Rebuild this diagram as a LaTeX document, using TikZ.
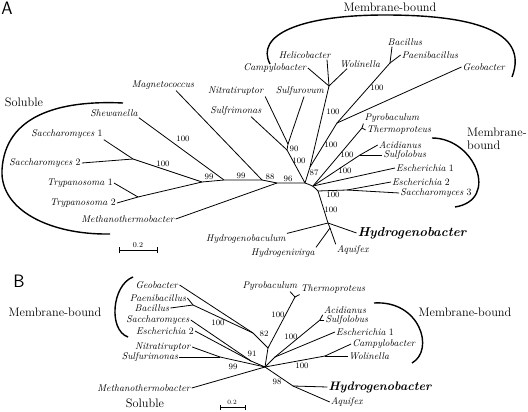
\documentclass[tikz,border=0pt]{standalone}
\usepackage{tikz}

\begin{document}
\begin{tikzpicture}[x=1pt,y=-1pt]

		\tikzset{taxon/.style = {font=\fontsize{9.8}{10}\selectfont, inner sep=1pt}}
		\tikzset{boot/.style = {font=\fontsize{8.3}{9}\selectfont, inner sep=0pt}}
		\tikzset{group/.style = {font=\fontsize{12.3}{13}\selectfont, inner sep=0pt}}
		\tikzset{panel/.style = {font=\fontsize{18}{18}\sffamily, inner sep=0pt}}
		\tikzset{branch/.style = {line width=0.8pt}}
		\tikzset{bracket/.style = {line width=1.4pt}}
		\useasboundingbox (0,0) rectangle (528,412);

		%%% panel A
		\node[panel] (pA) at (7,8) {A};
		% taxa
		\node[taxon] (sac1) at (67,134) {\textit{Saccharomyces} 1};
		\node[taxon] (sac2) at (45,163) {\textit{Saccharomyces} 2};
		\node[taxon] (try1) at (80,183) {\textit{Trypanosoma} 1};
		\node[taxon] (try2) at (83,203) {\textit{Trypanosoma} 2};
		\node[taxon] (met) at (128,219) {\textit{Methanothermobacter}};
		\node[taxon] (she) at (114,113) {\textit{Shewanella}};
		\node[taxon] (mag) at (163,85) {\textit{Magnetococcus}};
		\node[taxon] (sfm) at (236,111) {\textit{Sulfrimonas}};
		\node[taxon] (nit) at (236,91) {\textit{Nitratiruptor}};
		\node[taxon] (sfv) at (300,91) {\textit{Sulfurovum}};
		\node[taxon] (cam) at (275,68) {\textit{Campylobacter}};
		\node[taxon] (hel) at (305,55) {\textit{Helicobacter}};
		\node[taxon] (wol) at (360,64) {\textit{Wolinella}};
		\node[taxon] (bac) at (405,42) {\textit{Bacillus}};
		\node[taxon] (pae) at (430,55) {\textit{Paenibacillus}};
		\node[taxon] (geo) at (484,67) {\textit{Geobacter}};
		\node[taxon] (pyr) at (392,118) {\textit{Pyrobaculum}};
		\node[taxon] (the) at (399,130) {\textit{Thermoproteus}};
		\node[taxon] (aci) at (400,145) {\textit{Acidianus}};
		\node[taxon] (sul) at (405,155) {\textit{Sulfolobus}};
		\node[taxon] (ec1) at (425,168) {\textit{Escherichia} 1};
		\node[taxon] (ec2) at (421,182) {\textit{Escherichia} 2};
		\node[taxon] (sc3) at (436,193) {\textit{Saccharomyces} 3};
		\node[taxon] (hba) at (246,239) {\textit{Hydrogenobaculum}};
		\node[taxon, font=\fontsize{13}{14}\selectfont\bfseries\itshape] (hbr) at (412,233) {Hydrogenobacter};
		\node[taxon] (hvi) at (283,253) {\textit{Hydrogenivirga}};
		\node[taxon] (aqu) at (353,250) {\textit{Aquifex}};
		% inner nodes
		\coordinate (s1) at (133,159);
		\coordinate (t1) at (138,197);
		\coordinate (x1) at (202,182);
		\coordinate (y1) at (224,180);
		\coordinate (z1) at (262,180);
		\coordinate (m1) at (277,183);
		\coordinate (c1) at (305,183);
		\coordinate (j1) at (313,186);
		\coordinate (l1) at (318,191);
		\coordinate (n2) at (288,144);
		\coordinate (n1) at (287,150);
		\coordinate (k1) at (310,167);
		\coordinate (h1) at (329,86);
		\coordinate (b1) at (390,63);
		\coordinate (g1) at (337,123);
		\coordinate (p1) at (362,128);
		\coordinate (a1) at (360,155);
		\coordinate (e1) at (347,190);
		\coordinate (q1) at (328,223);
		\coordinate (r1) at (330,228);
		% edges
		\draw[branch] (sac1.south east) -- (s1);
		\draw[branch] (sac2.east) -- (s1);
		\draw[branch] (s1) -- (x1);
		\draw[branch] (try1.east) -- (t1);
		\draw[branch] (try2.east) -- (t1);
		\draw[branch] (t1) -- (x1);
		\draw[branch] (x1) -- (y1) -- (z1) -- (m1) -- (c1);
		\draw[branch] (she.south east) -- (y1);
		\draw[branch] ([xshift=13]mag.south) -- (z1);
		\draw[branch] (met.east) -- (m1);
		\draw[branch] (nit.south east) -- (n2);
		\draw[branch] ([xshift=4]sfv.south) -- (n2);
		\draw[branch] (n2) -- (n1);
		\draw[branch] ([xshift=15]sfm.south) -- (n1);
		\draw[branch] (n1) -- (c1);
		\draw[branch] (cam.east) -- (h1);
		\draw[branch] ([xshift=22]hel.south) -- (h1);
		\draw[branch] ([xshift=-13]wol.south) -- (h1);
		\draw[branch] (h1) -- (k1);
		\draw[branch] ([xshift=-13]bac.south) -- (b1);
		\draw[branch] (pae.west) -- (b1);
		\draw[branch] (b1) -- (g1);
		\draw[branch] (geo.west) -- (g1);
		\draw[branch] (g1) -- (k1);
		\draw[branch] (k1) -- (c1);
		\draw[branch, rounded corners=3pt] (c1) -- (j1) -- (l1);
		\draw[branch] (pyr.south west) -- (p1);
		\draw[branch] (the.west) -- (p1);
		\draw[branch] (p1) -- (j1);
		\draw[branch] (aci.west) -- (a1);
		\draw[branch] (sul.west) -- (a1);
		\draw[branch] (a1) -- (j1);
		\draw[branch] (ec1.west) -- (j1);
		\draw[branch] (ec2.west) -- (e1);
		\draw[branch] (sc3.west) -- (e1);
		\draw[branch] (e1) -- (l1);
		\draw[branch] (l1) -- (q1);
		\draw[branch] (hba.north east) -- (q1);
		\draw[branch] (hbr.west) -- (q1);
		\draw[branch] (q1) -- (r1);
		\draw[branch] (hvi.north east) -- (r1);
		\draw[branch] (aqu.north west) -- (r1);
		% bootstrap values
		\node[boot] at (183,139) {100};
		\node[boot] at (163,164) {100};
		\node[boot] at (209,177) {99};
		\node[boot] at (241,176) {99};
		\node[boot] at (270,177) {88};
		\node[boot] at (288,179) {96};
		\node[boot] at (294,149) {90};
		\node[boot] at (299,161) {100};
		\node[boot] at (314,173) {87};
		\node[boot] at (333,112) {100};
		\node[boot] at (331,145) {100};
		\node[boot] at (377,88) {100};
		\node[boot] at (347,155) {100};
		\node[boot] at (345,171) {100};
		\node[boot] at (333,195) {100};
		\node[boot] at (331,210) {100};
		% groups
		\node[group] (solA) at (24,102) {Soluble};
		\node[group] (memA) at (390,7) {Membrane-bound};
		\node[group, align=left, anchor=west] (memA2) at (467,139) {Membrane-\\bound};
		\draw[bracket] (123,103) .. controls (60,100) and (5,115) .. (2,170)
		               .. controls (0,210) and (50,235) .. (110,234);
		\draw[bracket] (270,64) .. controls (255,35) and (300,15) .. (385,15)
		               .. controls (470,15) and (530,30) .. (512,77);
		\draw[bracket] (432,138) .. controls (475,138) and (500,200) .. (455,207);
		% scale
		\coordinate (scA1) at (119,250);
		\coordinate (scA2) at (157,250);
		\draw[branch] (scA1) -- (scA2);
		\draw[branch] ([yshift=-3]scA1) -- ([yshift=3]scA1);
		\draw[branch] ([yshift=-3]scA2) -- ([yshift=3]scA2);
		\node[boot, font=\fontsize{7.5}{8}\selectfont] at (138,245) {0.2};

		%%% panel B
		\node[panel] (pB) at (19,281) {B};
		% taxa
		\node[taxon] (geoB) at (157,285) {\textit{Geobacter}};
		\node[taxon] (paeB) at (158,298) {\textit{Paenibacillus}};
		\node[taxon] (bacB) at (152,308) {\textit{Bacillus}};
		\node[taxon] (sacB) at (158,320) {\textit{Saccharomyces}};
		\node[taxon] (ec2B) at (165,331) {\textit{Escherichia} 2};
		\node[taxon] (nitB) at (163,347) {\textit{Nitratiruptor}};
		\node[taxon] (sfmB) at (150,357) {\textit{Sulfurimonas}};
		\node[taxon] (metB) at (144,388) {\textit{Methanothermobacter}};
		\node[taxon] (pyrB) at (270,286) {\textit{Pyrobaculum}};
		\node[taxon] (theB) at (333,289) {\textit{Thermoproteus}};
		\node[taxon] (aciB) at (345,310) {\textit{Acidianus}};
		\node[taxon] (sulB) at (347,320) {\textit{Sulfolobus}};
		\node[taxon] (ec1B) at (365,332) {\textit{Escherichia} 1};
		\node[taxon] (camB) at (384,344) {\textit{Campylobacter}};
		\node[taxon] (wolB) at (369,356) {\textit{Wolinella}};
		\node[taxon, font=\fontsize{12.3}{13}\selectfont\bfseries\itshape] (hbrB) at (380,387) {Hydrogenobacter};
		\node[taxon] (aquB) at (347,402) {\textit{Aquifex}};
		% inner nodes
		\coordinate (bb) at (193,305);
		\coordinate (gb) at (253,333);
		\coordinate (kb) at (268,348);
		\coordinate (pb) at (295,297);
		\coordinate (se) at (251,361);
		\coordinate (ns) at (220,357);
		\coordinate (ob) at (265,367);
		\coordinate (qb) at (275,357);
		\coordinate (ab) at (320,320);
		\coordinate (cw) at (325,356);
		\coordinate (hb) at (293,386);
		% edges
		\draw[branch] (paeB.east) -- (bb);
		\draw[branch] (bacB.east) -- (bb);
		\draw[branch] (bb) -- (gb);
		\draw[branch] (geoB.east) -- (gb);
		\draw[branch] (gb) -- (kb);
		\draw[branch] ([xshift=20]pyrB.south) -- (pb);
		\draw[branch] (theB.south west) -- (pb);
		\draw[branch] (pb) -- (kb);
		\draw[branch] (kb) -- (ob);
		\draw[branch] (sacB.east) -- (se);
		\draw[branch] (ec2B.east) -- (se);
		\draw[branch] (se) -- (ob);
		\draw[branch] (nitB.east) -- (ns);
		\draw[branch] (sfmB.east) -- (ns);
		\draw[branch] (ns) -- (ob);
		\draw[branch] (metB.east) -- (ob);
		\draw[branch] (ob) -- (qb);
		\draw[branch] (aciB.south west) -- (ab);
		\draw[branch] (sulB.west) -- (ab);
		\draw[branch] (ab) -- (qb);
		\draw[branch] (ec1B.west) -- (qb);
		\draw[branch] (camB.west) -- (cw);
		\draw[branch] (wolB.west) -- (cw);
		\draw[branch] (cw) -- (ob);
		\draw[branch] (ob) -- (hb);
		\draw[branch] (hbrB.west) -- (hb);
		\draw[branch] (aquB.west) -- (hb);
		% bootstrap values
		\node[boot] at (218,323) {100};
		\node[boot] at (264,334) {82};
		\node[boot] at (278,315) {100};
		\node[boot] at (252,354) {91};
		\node[boot] at (233,367) {99};
		\node[boot] at (291,337) {100};
		\node[boot] at (302,366) {100};
		\node[boot] at (277,382) {98};
		% groups
		\node[group] (memB1) at (55,312) {Membrane-bound};
		\node[group] (memB2) at (465,312) {Membrane-bound};
		\node[group] (solB) at (145,403) {Soluble};
		\draw[bracket] (133,277) .. controls (112,285) and (108,330) .. (128,337);
		\draw[bracket] (374,303) .. controls (420,300) and (435,350) .. (412,363);
		% scale
		\coordinate (scB1) at (220,407);
		\coordinate (scB2) at (245,407);
		\draw[branch] (scB1) -- (scB2);
		\draw[branch] ([yshift=-2.5]scB1) -- ([yshift=2.5]scB1);
		\draw[branch] ([yshift=-2.5]scB2) -- ([yshift=2.5]scB2);
		\node[boot, font=\fontsize{6.5}{7}\selectfont] at (232,402) {0.2};

\end{tikzpicture}
\end{document}
